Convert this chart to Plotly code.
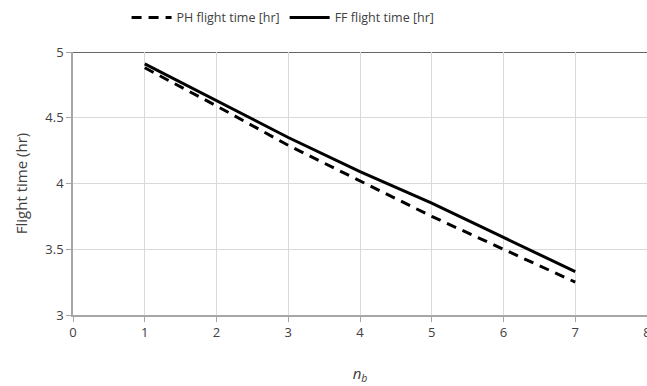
import plotly.graph_objects as go

nb = [1, 2, 3, 4, 5, 6, 7]
ph_time = [4.88, 4.59, 4.29, 4.02, 3.75, 3.50, 3.25]
ff_time = [4.91, 4.63, 4.35, 4.09, 3.85, 3.59, 3.33]

font = "Open Sans, Noto Sans, sans-serif"

fig = go.Figure()
fig.add_trace(go.Scatter(x=nb, y=ph_time, mode="lines", name="PH flight time [hr]",
                         line=dict(color="black", width=3, dash="10px,7px")))
fig.add_trace(go.Scatter(x=nb, y=ff_time, mode="lines", name="FF flight time [hr]",
                         line=dict(color="black", width=3)))

fig.add_shape(type="line", xref="paper", yref="y", x0=0, x1=1, y0=5, y1=5,
              line=dict(color="#333333", width=1.5), layer="below")

fig.update_layout(
    width=647, height=386,
    margin=dict(l=73, r=0, t=52, b=71, autoexpand=False),
    paper_bgcolor="white", plot_bgcolor="white",
    font=dict(family=font, size=13, color="#404040"),
    legend=dict(orientation="h", x=0.366, xanchor="center", y=1.13, yanchor="middle",
                font=dict(size=12.5, color="#404040"), itemwidth=40),
    xaxis=dict(range=[0, 8], dtick=1, showgrid=True, gridcolor="#d9d9d9",
               showline=True, linecolor="#a6a6a6", linewidth=1.5,
               ticks="outside", ticklen=5, tickcolor="#a6a6a6", zeroline=False,
               ticklabeloverflow="allow",
               title=dict(text="<i>n<sub>b</sub></i>", standoff=28,
                          font=dict(size=15, color="#404040"))),
    yaxis=dict(range=[3, 5], dtick=0.5, showgrid=True, gridcolor="#d9d9d9",
               showline=True, linecolor="#a6a6a6", linewidth=1.5,
               ticks="outside", ticklen=5, tickcolor="#a6a6a6", zeroline=False,
               title=dict(text="Flight time (hr)", standoff=14,
                          font=dict(size=15, color="#404040"))),
)

fig.write_html("out.html")
